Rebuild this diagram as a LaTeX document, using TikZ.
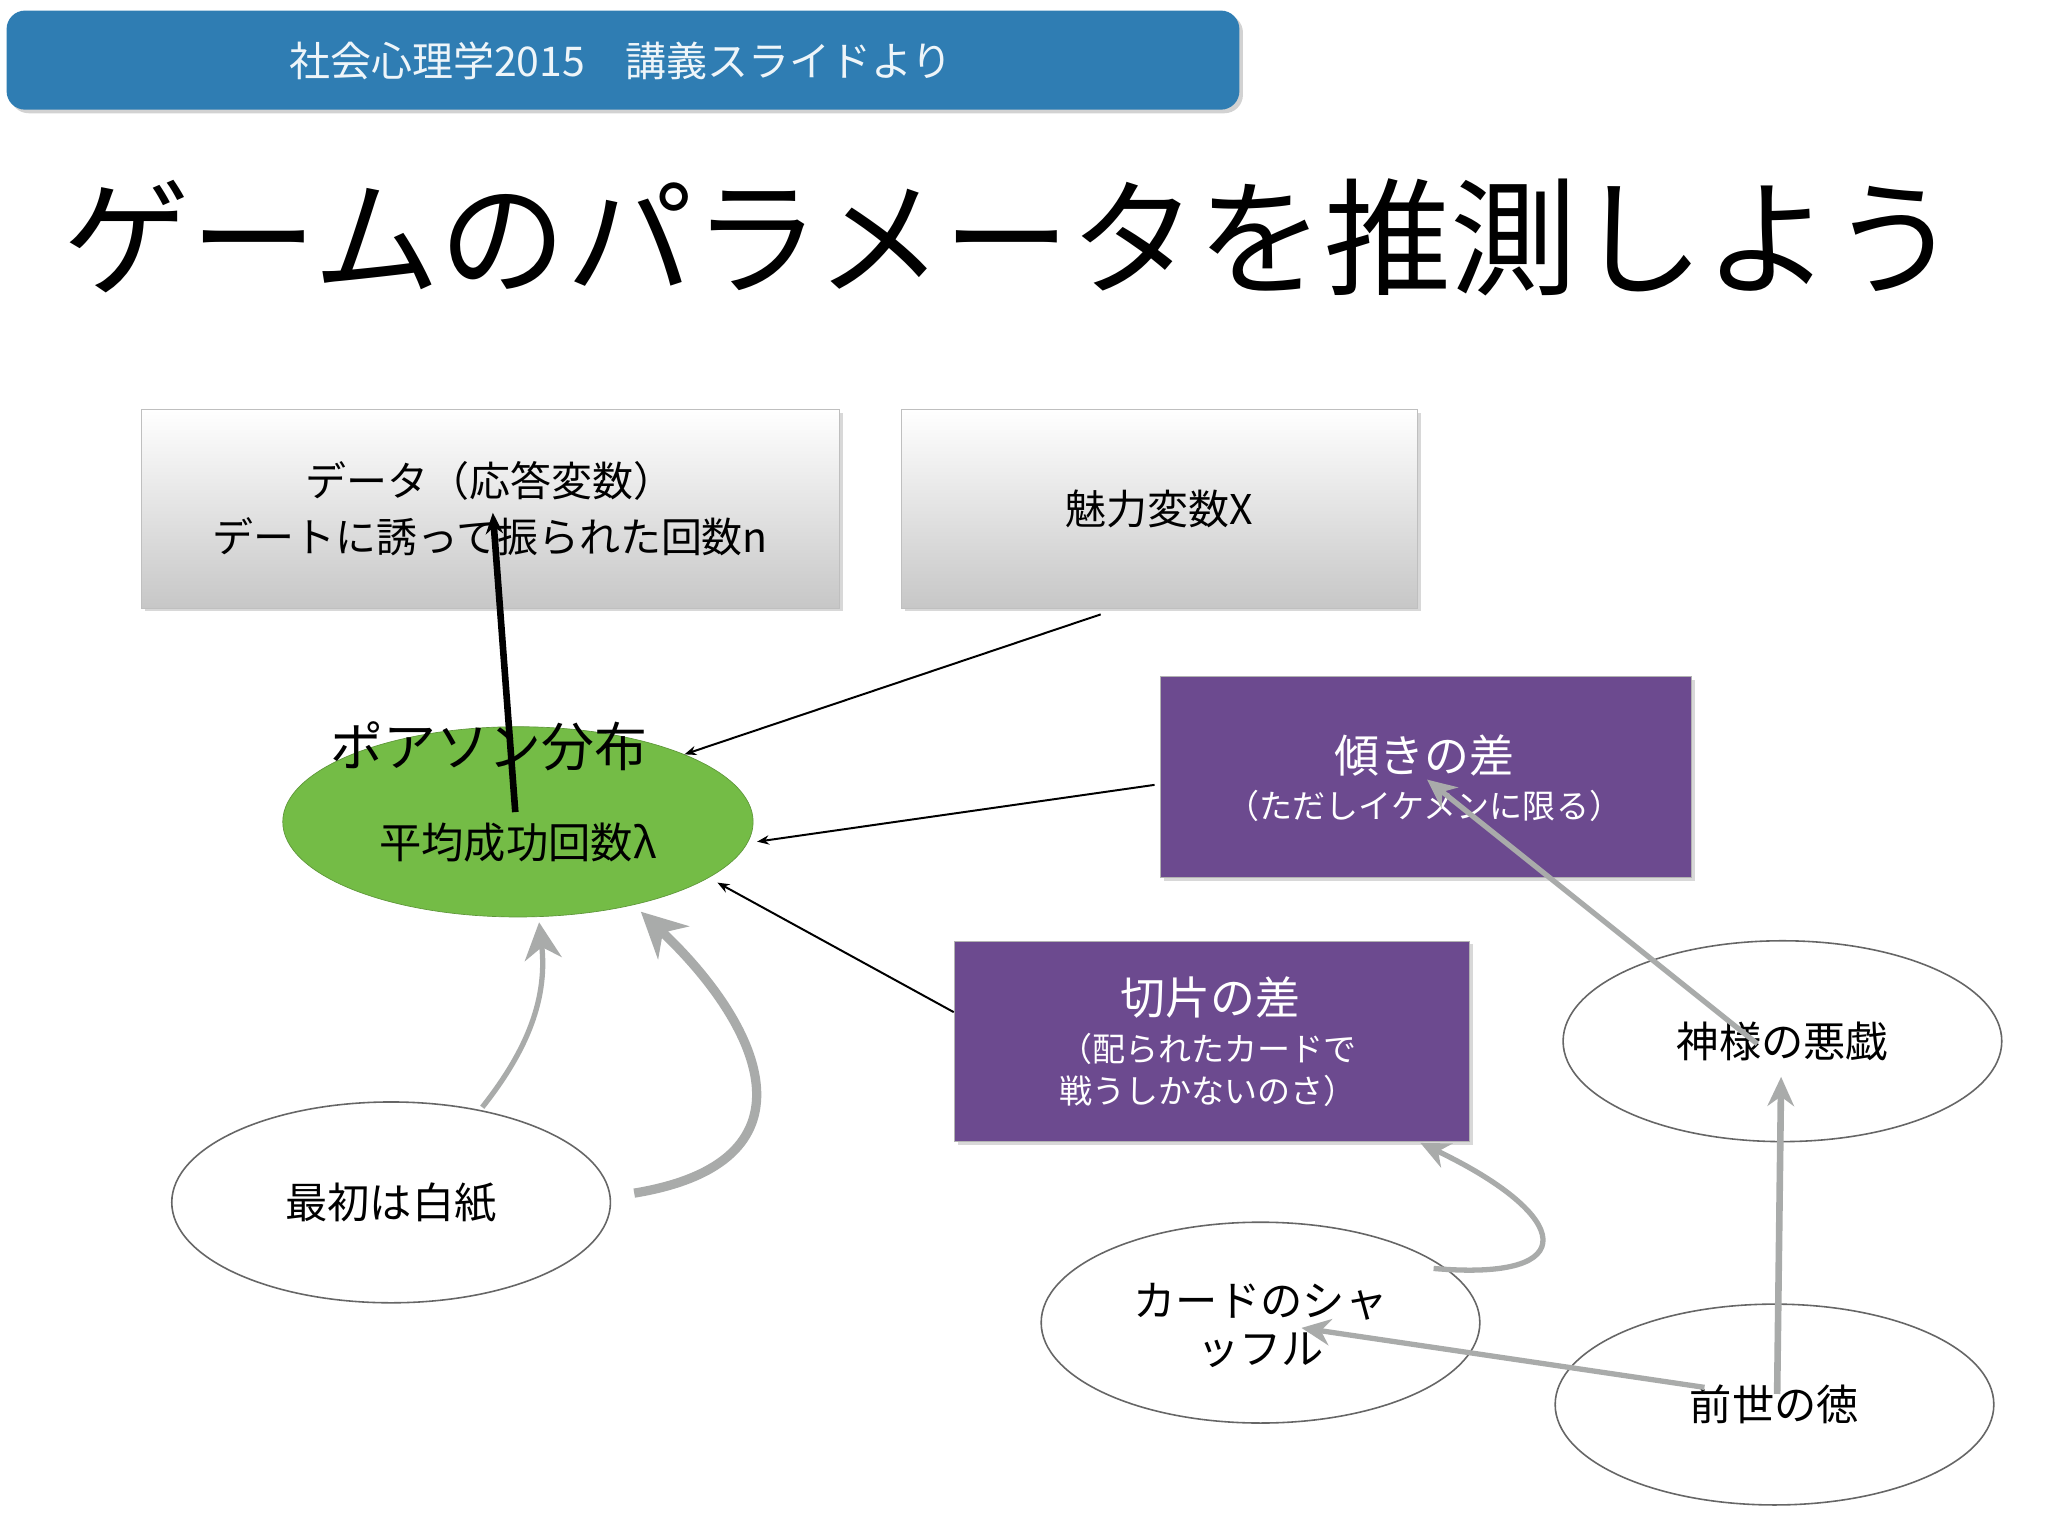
\documentclass[tikz,border=0pt]{standalone}
\usepackage{fontspec}
\setmainfont{Noto Sans CJK JP}
\usetikzlibrary{arrows.meta,shadows}
\definecolor{hdr}{HTML}{2F7DB3}
\definecolor{grn}{HTML}{74BC46}
\definecolor{pur}{HTML}{6C4A8F}
\definecolor{gry}{HTML}{A9ABAA}
\tikzset{
 graybox/.style={rectangle,top color=white,bottom color=black!22,draw=black!25,minimum width=528pt,minimum height=150pt,align=center,drop shadow={opacity=0.3}},
 purbox/.style={rectangle,fill=pur,draw=black!30,text=white,align=center,drop shadow={opacity=0.3}},
 oval/.style={ellipse,draw=black!60,line width=1.2pt,fill=white,minimum width=332pt,minimum height=152pt,align=center,font=\fontsize{32}{36}\selectfont},
 thin/.style={-{Stealth[length=9pt,width=7pt]},line width=1.5pt},
 garrow/.style={-{Stealth[length=22pt,width=20pt]},gry,line width=5pt},
}
\usetikzlibrary{shapes.geometric}
\begin{document}
\begin{tikzpicture}[x=1pt,y=-1pt]
\useasboundingbox (0,0) rectangle (1550,1162);
\fill[white] (0,0) rectangle (1550,1162);
\node[rectangle,rounded corners=14pt,fill=hdr,minimum width=933pt,minimum height=75pt,drop shadow={opacity=0.35}] (hdr) at (471.5,45.5) {};
\node[text=white!92!hdr,font=\fontsize{31}{34}\selectfont] (ht) at (470,46) {社会心理学2015\quad 講義スライドより};
\node[font=\fontsize{96}{100}\selectfont] (title) at (765,180) {ゲームのパラメータを推測しよう};

\node[graybox,font=\fontsize{31}{42}\selectfont] (b1) at (371,385) {データ（応答変数）\\デートに誘って振られた回数n};
\node[graybox,minimum width=391pt,font=\fontsize{31}{36}\selectfont] (b2) at (877.5,385) {魅力変数X};

\node[ellipse,fill=grn,draw=grn!80!black,line width=0.5pt,minimum width=356pt,minimum height=144pt] (pois) at (392,622) {};
\node[font=\fontsize{40}{44}\selectfont] (pt) at (370,565) {ポアソン分布};
\node[font=\fontsize{32}{36}\selectfont] (lam) at (392,638) {平均成功回数λ};

\node[purbox,minimum width=402pt,minimum height=152pt] (p1) at (1079,588) {};
\node[text=white,font=\fontsize{34}{38}\selectfont] (p1a) at (1078,572) {傾きの差};
\node[text=white,font=\fontsize{25}{28}\selectfont] (p1b) at (1078,610) {（ただしイケメンに限る）};

\node[purbox,minimum width=390pt,minimum height=152pt] (p2) at (917,788) {};
\node[text=white,font=\fontsize{34}{38}\selectfont] (p2a) at (916,755) {切片の差};
\node[text=white,font=\fontsize{25}{32}\selectfont,align=center] (p2b) at (914,810) {（配られたカードで\\戦うしかないのさ）};

\node[oval] (kami) at (1349,788) {神様の悪戯};
\node[oval] (haku) at (296,910) {最初は白紙};
\node[oval] (card) at (954,1001) {};
\node[font=\fontsize{32}{36}\selectfont] (cardt) at (954,1003) {\parbox{200pt}{\centering カードのシャ\\ッフル}};
\node[oval] (zen) at (1343,1063) {前世の徳};

% black arrows
\draw[-{Stealth[length=16pt,width=13pt]},line width=5pt] (lam.north) ++(-2,-5) -- (373,388);
\draw[thin] (833,465) -- (pois.north east);
\draw[thin] (p1.west) ++(-4,6) -- (573,637);
\draw[thin] (p2.west) ++(0,-22) -- (543,668);

% gray arrows
\draw[garrow] (1345,1055) -- (1348,815);
\draw[garrow,line width=4pt] (1330,790) -- (1080,590);
\draw[garrow,line width=4pt] (1290,1050) -- (985,1005);
\draw[garrow,line width=4pt] (1085,960) .. controls (1200,970) and (1190,920) .. (1075,865);
\draw[garrow,line width=4pt,-{Stealth[length=28pt,width=28pt]}] (365,838) .. controls (395,800) and (415,760) .. (408,698);
\draw[garrow,line width=7pt,-{Stealth[length=34pt,width=34pt]}] (480,903) .. controls (620,880) and (580,780) .. (485,690);
\end{tikzpicture}
\end{document}
